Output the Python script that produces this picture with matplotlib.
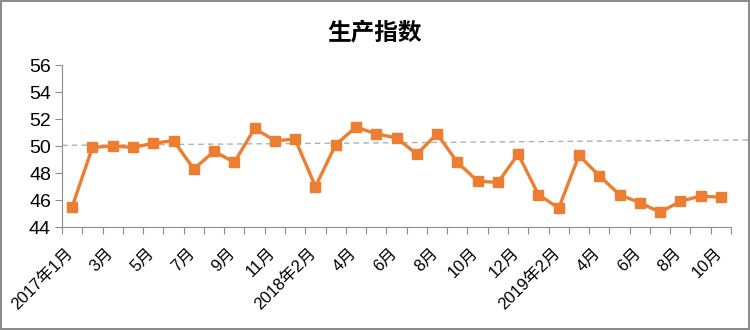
import numpy as np
import matplotlib.pyplot as plt
import matplotlib.transforms as mtransforms

plt.rcParams['font.family'] = ['Liberation Sans', 'Noto Sans CJK SC']

# 2017-01 .. 2019-10 (no 2018-01)
months = (['2017年1月'] + [f'{m}月' for m in range(2, 13)] +
          ['2018年2月'] + [f'{m}月' for m in range(3, 13)] +
          ['2019年1月'] + [f'{m}月' for m in range(2, 11)])
months[24] = '2019年2月'
values = [45.5, 49.9, 50.0, 49.9, 50.2, 50.4, 48.3, 49.6, 48.8, 51.3, 50.4,
          50.5, 47.0, 50.1, 51.4, 50.9, 50.6, 49.4, 50.9, 48.8, 47.4, 47.3,
          49.4, 46.4, 45.4, 49.3, 47.8, 46.4, 45.8, 45.1, 45.9, 46.3, 46.2]
ref_line = [50.05, 50.45]

x = np.arange(len(values))

fig = plt.figure(figsize=(7.5, 3.3), dpi=100)
fig.patch.set_edgecolor('#8c8c8c')
fig.patch.set_linewidth(1.5)
ax = fig.add_axes([0.0827, 0.312, 0.892, 0.491])

ax.plot(x, values, color='#ED7D31', lw=2.4, marker='s', ms=7, zorder=3)
ax.plot([-0.5, len(values) + 0.4], ref_line, ls=(0, (4, 3)), color='#b0b0b0',
        lw=1, clip_on=False, zorder=2)

ax.set_xlim(-0.5, len(values) - 0.5)
ax.set_ylim(44, 56)
ax.set_yticks(np.arange(44, 57, 2))
ax.tick_params(axis='y', labelsize=14, length=5, color='#8c8c8c', pad=3)

ax.set_xticks(np.arange(-0.5, len(values), 1))
ax.set_xticklabels([])
ax.tick_params(axis='x', which='major', length=5, color='#8c8c8c')
ax.set_xticks(x[::2], [months[i] for i in x[::2]], minor=True)
ax.tick_params(axis='x', which='minor', length=0, labelsize=12, pad=13)
shift = mtransforms.ScaledTranslation(-5 / 72, 0, fig.dpi_scale_trans)
for lab in ax.get_xticklabels(minor=True):
    lab.set_rotation(45)
    lab.set_ha('right')
    lab.set_va('top')
    lab.set_rotation_mode('anchor')
    lab.set_transform(lab.get_transform() + shift)

for s in ['top', 'right']:
    ax.spines[s].set_visible(False)
for s in ['left', 'bottom']:
    ax.spines[s].set_color('#8c8c8c')

fig.text(0.5, 0.9, '生产指数', ha='center', va='center', fontsize=17,
         fontweight='bold', family=['Noto Sans CJK SC'])

fig.savefig('out.png', dpi=100)
